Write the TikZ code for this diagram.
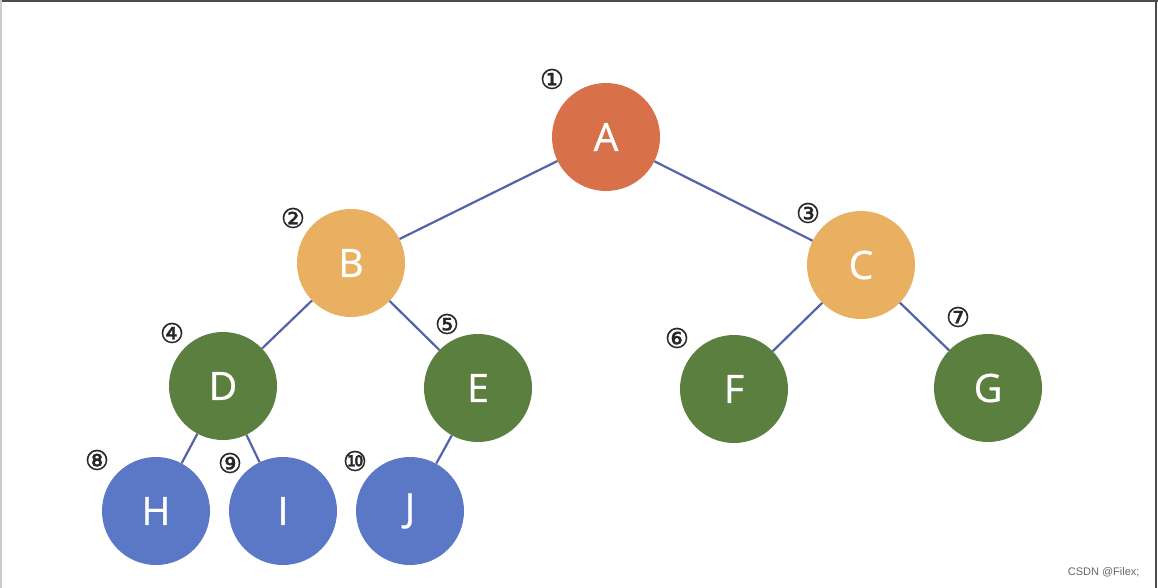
\documentclass[tikz,border=0pt]{standalone}
\usepackage{fontspec}
\setmainfont{Open Sans}
\newfontfamily\letterfont[FakeBold=0.8]{Open Sans}
\newfontfamily\symfont[FakeBold=1.2]{DejaVu Sans}
\newfontfamily\wmfont{Liberation Sans}
\definecolor{cA}{HTML}{D8704A}
\definecolor{cB}{HTML}{E8B060}
\definecolor{cD}{HTML}{5B7F3F}
\definecolor{cH}{HTML}{5B78C6}
\definecolor{edgecol}{HTML}{5462A8}
\begin{document}
\begin{tikzpicture}[x=1pt,y=-1pt,
  tnode/.style={circle,minimum size=108pt,inner sep=0pt,text=white,
    font=\letterfont\fontsize{39}{44}\selectfont},
  num/.style={font=\symfont\fontsize{27}{29}\selectfont,text=black!85,inner sep=0pt},
  edge/.style={draw=edgecol,line width=2.2pt}]
\useasboundingbox (0,0) rectangle (1158,588);
\fill[white] (0,0) rectangle (1158,588);
\draw[black!70,line width=3pt] (0,1) -- (1158,1);
\draw[black!70,line width=2pt] (1156,0) -- (1156,588);
\draw[black!20,line width=2pt] (1,0) -- (1,588);
% nodes
\node[tnode,fill=cA] (A) at (606,137) {A};
\node[tnode,fill=cB] (B) at (351,263) {B};
\node[tnode,fill=cB] (C) at (861,265) {C};
\node[tnode,fill=cD] (D) at (223,386) {D};
\node[tnode,fill=cD] (E) at (478,388) {E};
\node[tnode,fill=cD] (F) at (734,389) {F};
\node[tnode,fill=cD] (G) at (988,388) {G};
\node[tnode,fill=cH] (H) at (156,511) {H};
\node[tnode,fill=cH] (I) at (283,511) {I};
\node[tnode,fill=cH] (J) at (410,511) {J};
% edges
\draw[edge] (A) -- (B);
\draw[edge] (A) -- (C);
\draw[edge] (B) -- (D);
\draw[edge] (B) -- (E);
\draw[edge] (C) -- (F);
\draw[edge] (C) -- (G);
\draw[edge] (D) -- (H);
\draw[edge] (D) -- (I);
\draw[edge] (E) -- (J);
% numbers
\node[num] (n1) at (552,79) {①};
\node[num] (n2) at (293,218) {②};
\node[num] (n3) at (808,213) {③};
\node[num] (n4) at (172,333) {④};
\node[num] (n5) at (447,324) {⑤};
\node[num] (n6) at (677,338) {⑥};
\node[num] (n7) at (958,317) {⑦};
\node[num] (n8) at (97,460) {⑧};
\node[num] (n9) at (230,463) {⑨};
\node[num] (n10) at (355,461) {⑩};
\node[font=\wmfont\fontsize{11}{13}\selectfont,text=black!60,anchor=east] (wm) at (1143,572) {CSDN @Filex;};
\end{tikzpicture}
\end{document}
